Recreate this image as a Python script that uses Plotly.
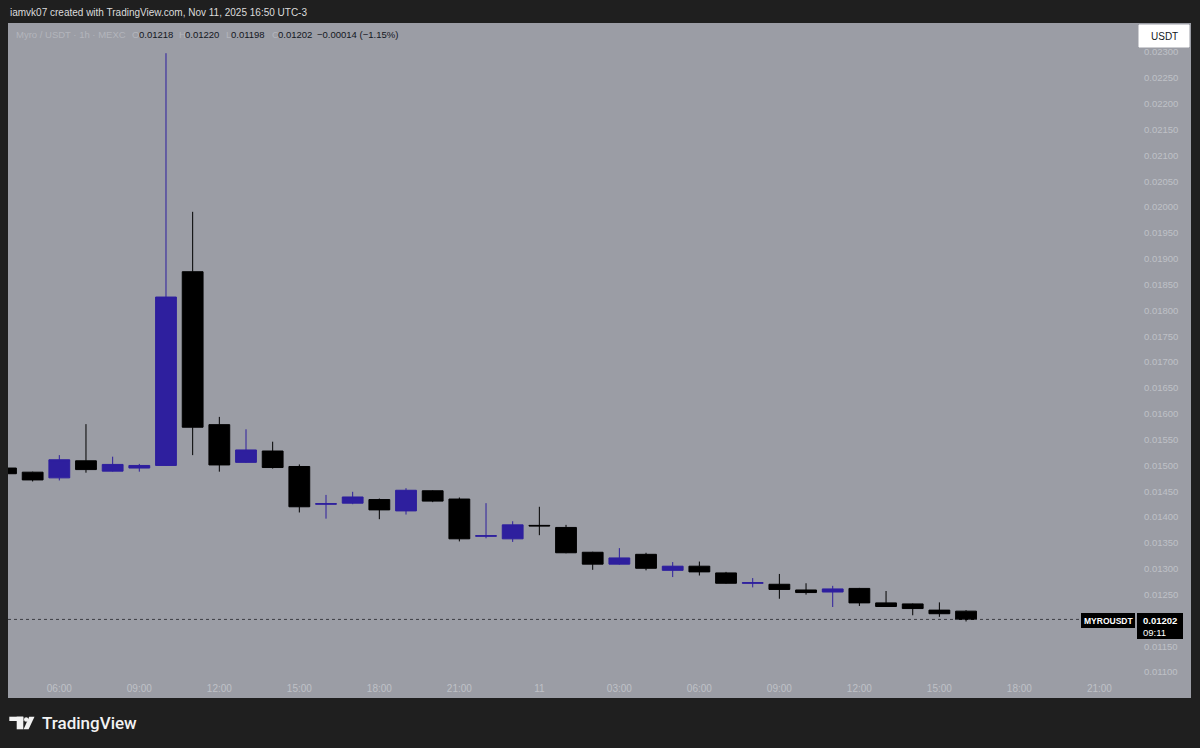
import pandas as pd
import plotly.graph_objects as go

# ---------------- data ----------------
times = pd.date_range("2025-11-10 04:00", periods=37, freq="h")

opens = [0.01495, 0.01487, 0.01476, 0.01509, 0.01489, 0.01495, 0.01500, 0.01875,
         0.01579, 0.01506, 0.01528, 0.01498, 0.01425, 0.01427, 0.01434, 0.01412,
         0.01451, 0.01435, 0.01363, 0.01358, 0.01384, 0.01380, 0.01332, 0.01309,
         0.01328, 0.01297, 0.01305, 0.01292, 0.01272, 0.01270, 0.01259, 0.01255,
         0.01262, 0.01234, 0.01232, 0.01220, 0.01218]
highs = [0.01496, 0.01488, 0.01520, 0.01580, 0.01517, 0.01503, 0.02298, 0.01991,
         0.01594, 0.01570, 0.01546, 0.01502, 0.01443, 0.01449, 0.01436, 0.01456,
         0.01452, 0.01438, 0.01427, 0.01392, 0.01420, 0.01385, 0.01333, 0.01340,
         0.01331, 0.01313, 0.01314, 0.01294, 0.01282, 0.01290, 0.01272, 0.01267,
         0.01263, 0.01257, 0.01233, 0.01235, 0.01220]
lows = [0.01483, 0.01469, 0.01471, 0.01486, 0.01488, 0.01488, 0.01499, 0.01520,
        0.01488, 0.01505, 0.01494, 0.01409, 0.01397, 0.01425, 0.01396, 0.01405,
        0.01429, 0.01353, 0.01359, 0.01352, 0.01365, 0.01330, 0.01298, 0.01308,
        0.01297, 0.01284, 0.01287, 0.01271, 0.01264, 0.01242, 0.01250, 0.01226,
        0.01228, 0.01226, 0.01210, 0.01207, 0.01198]
closes = [0.01484, 0.01472, 0.01511, 0.01492, 0.01502, 0.01500, 0.01826, 0.01574,
          0.01501, 0.01530, 0.01496, 0.01420, 0.01426, 0.01439, 0.01414, 0.01452,
          0.01431, 0.01358, 0.01364, 0.01385, 0.01383, 0.01331, 0.01309, 0.01321,
          0.01301, 0.01305, 0.01294, 0.01272, 0.01273, 0.01260, 0.01254, 0.01261,
          0.01234, 0.01227, 0.01223, 0.01213, 0.01202]

y_tick_values = [0.01100, 0.01150, 0.01200, 0.01250, 0.01300, 0.01350, 0.01400,
                 0.01450, 0.01500, 0.01550, 0.01600, 0.01650, 0.01700, 0.01750,
                 0.01800, 0.01850, 0.01900, 0.01950, 0.02000, 0.02050, 0.02100,
                 0.02150, 0.02200, 0.02250, 0.02300]
x_tick_values = ["2025-11-10 06:00", "2025-11-10 09:00", "2025-11-10 12:00",
                 "2025-11-10 15:00", "2025-11-10 18:00", "2025-11-10 21:00",
                 "2025-11-11 00:00", "2025-11-11 03:00", "2025-11-11 06:00",
                 "2025-11-11 09:00", "2025-11-11 12:00", "2025-11-11 15:00",
                 "2025-11-11 18:00", "2025-11-11 21:00"]
x_tick_labels = ["06:00", "09:00", "12:00", "15:00", "18:00", "21:00", "11",
                 "03:00", "06:00", "09:00", "12:00", "15:00", "18:00", "21:00"]

last_price = 0.01202
header_title = "iamvk07 created with TradingView.com, Nov 11, 2025 16:50 UTC-3"
symbol_text = "Myro / USDT · 1h · MEXC"
ohlc_labels = ["O", "H", "L", "C"]
ohlc_values = ["0.01218", "0.01220", "0.01198", "0.01202"]
change_text = "−0.00014 (−1.15%)"

# ---------------- styling ----------------
W, H = 1200, 748
ML, MR, MT, MB = 8, 63, 23, 73
PW, PH = W - ML - MR, H - MT - MB
BG_DARK = "#1f1f1f"
PANEL = "#9b9da5"
BLUE = "#2e1f9e"
BLACK = "#000000"
FAINT = "#bfc1c7"
FONT = "Liberation Sans"


def px_x(px):
    return (px - ML) / PW


def px_y(py):
    return (H - MB - py) / PH


fig = go.Figure()
fig.add_trace(go.Candlestick(
    x=times, open=opens, high=highs, low=lows, close=closes,
    increasing=dict(line=dict(color=BLUE, width=1), fillcolor=BLUE),
    decreasing=dict(line=dict(color=BLACK, width=1), fillcolor=BLACK),
    whiskerwidth=0, hoverinfo="skip", showlegend=False,
))

shapes = [
    # gray panel incl. price & time scales
    dict(type="rect", xref="paper", yref="paper", x0=px_x(8), x1=px_x(1191),
         y0=px_y(698), y1=px_y(23), fillcolor=PANEL, line=dict(width=0), layer="below"),
    # last price dotted line
    dict(type="line", xref="paper", yref="y", x0=0, x1=px_x(1080), y0=last_price, y1=last_price,
         line=dict(color="#3c3d42", width=1, dash="dot")),
    # MYROUSDT label box
    dict(type="rect", xref="paper", yref="paper", x0=px_x(1081), x1=px_x(1135),
         y0=px_y(628), y1=px_y(613), fillcolor="#000000", line=dict(width=0)),
    # price box
    dict(type="rect", xref="paper", yref="paper", x0=px_x(1137), x1=px_x(1183),
         y0=px_y(639), y1=px_y(613), fillcolor="#000000", line=dict(width=0)),
    # USDT button
    dict(type="rect", xref="paper", yref="paper", x0=px_x(1139), x1=px_x(1189),
         y0=px_y(47), y1=px_y(25), fillcolor="#ffffff", line=dict(color="#ffffff", width=1)),
    # TradingView logo glyph
    dict(type="rect", xref="paper", yref="paper", x0=px_x(9.3), x1=px_x(23.3),
         y0=px_y(721), y1=px_y(716.7), fillcolor="#f2f2f2", line=dict(width=0)),
    dict(type="rect", xref="paper", yref="paper", x0=px_x(16.7), x1=px_x(23.3),
         y0=px_y(729.3), y1=px_y(716.7), fillcolor="#f2f2f2", line=dict(width=0)),
    dict(type="circle", xref="paper", yref="paper", x0=px_x(24), x1=px_x(28.3),
         y0=px_y(721.7), y1=px_y(717.3), fillcolor="#f2f2f2", line=dict(width=0)),
    dict(type="path", xref="paper", yref="paper",
         path=f"M {px_x(29.2)} {px_y(716.7)} L {px_x(34.5)} {px_y(716.7)} "
              f"L {px_x(28.6)} {px_y(729.3)} L {px_x(23.6)} {px_y(729.3)} Z",
         fillcolor="#f2f2f2", line=dict(width=0)),
]

ann = []
ann.append(dict(text=header_title, x=px_x(8), y=px_y(12.7), xref="paper", yref="paper",
                xanchor="left", yanchor="middle", showarrow=False,
                font=dict(family=FONT, size=10, color="#dcdcdc")))
ann.append(dict(text=symbol_text, x=px_x(14), y=px_y(34), xref="paper", yref="paper",
                xanchor="left", yanchor="middle", showarrow=False,
                font=dict(family=FONT, size=9.5, color="#b3b5bc")))
letter_x = [130, 177, 224, 270]
value_x = [137, 183, 229, 276]
for lab, val, lx, vx in zip(ohlc_labels, ohlc_values, letter_x, value_x):
    ann.append(dict(text=lab, x=px_x(lx), y=px_y(34), xref="paper", yref="paper",
                    xanchor="left", yanchor="middle", showarrow=False,
                    font=dict(family=FONT, size=9.5, color="#b3b5bc")))
    ann.append(dict(text=val, x=px_x(vx), y=px_y(34), xref="paper", yref="paper",
                    xanchor="left", yanchor="middle", showarrow=False,
                    font=dict(family=FONT, size=9.5, color="#131722")))
ann.append(dict(text=change_text, x=px_x(315), y=px_y(34), xref="paper", yref="paper",
                xanchor="left", yanchor="middle", showarrow=False,
                font=dict(family=FONT, size=9.5, color="#131722")))
ann.append(dict(text="USDT", x=px_x(1164), y=px_y(36), xref="paper", yref="paper",
                xanchor="center", yanchor="middle", showarrow=False,
                font=dict(family=FONT, size=10, color="#131722")))
ann.append(dict(text="<b>MYROUSDT</b>", x=px_x(1108), y=px_y(620.5), xref="paper", yref="paper",
                xanchor="center", yanchor="middle", showarrow=False,
                font=dict(family=FONT, size=8.5, color="#ffffff")))
ann.append(dict(text="<b>0.01202</b>", x=px_x(1141), y=px_y(620.5), xref="paper", yref="paper",
                xanchor="left", yanchor="middle", showarrow=False,
                font=dict(family=FONT, size=9.5, color="#ffffff")))
ann.append(dict(text="09:11", x=px_x(1141), y=px_y(632), xref="paper", yref="paper",
                xanchor="left", yanchor="middle", showarrow=False,
                font=dict(family=FONT, size=9.5, color="#ffffff")))
ann.append(dict(text="TradingView", x=px_x(40), y=px_y(723), xref="paper", yref="paper",
                xanchor="left", yanchor="middle", showarrow=False,
                font=dict(family="Roboto", size=17, color="#f2f2f2", weight=500)))

fig.update_layout(
    width=W, height=H,
    margin=dict(l=ML, r=MR, t=MT, b=MB, pad=0),
    paper_bgcolor=BG_DARK, plot_bgcolor=PANEL,
    showlegend=False, boxgap=0.22, boxgroupgap=0,
    shapes=shapes, annotations=ann,
    xaxis=dict(type="date", range=["2025-11-10 04:04:33", "2025-11-11 22:24:36"],
               rangeslider=dict(visible=False), showgrid=False, zeroline=False,
               showline=False, ticks="", tickvals=x_tick_values, ticktext=x_tick_labels,
               tickfont=dict(family=FONT, size=10, color=FAINT), ticklabelstandoff=6),
    yaxis=dict(side="right", range=[0.010944, 0.0235646], showgrid=False, zeroline=False,
               showline=False, ticks="", tickvals=y_tick_values,
               ticktext=[f"{v:.5f}" for v in y_tick_values],
               tickfont=dict(family=FONT, size=9.5, color=FAINT), ticklabelstandoff=6),
)

fig.write_html(
    "out.html",
    config={"displayModeBar": False},
    post_script="document.body.style.margin='0';document.body.style.background='#1f1f1f';",
)
